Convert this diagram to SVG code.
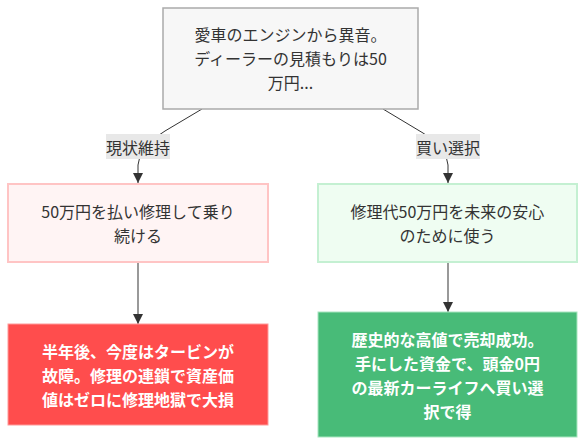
<svg xmlns="http://www.w3.org/2000/svg" width="586" height="446" viewBox="0 0 586 446">
<defs>
<style>
text{font-family:"Noto Sans CJK JP","Noto Sans",sans-serif;font-size:16px;text-anchor:middle;dominant-baseline:central;fill:#333}
.w{fill:#fff;font-weight:bold}
.e{fill:none;stroke:#333;stroke-width:1}
.e2{fill:none;stroke:#999;stroke-width:2}
</style>
<marker id="ah" viewBox="0 0 10 10" refX="10" refY="5" markerWidth="10" markerHeight="10" markerUnits="userSpaceOnUse" orient="auto">
<path d="M0,0 L10,5 L0,10 z" fill="#333"/>
</marker>
</defs>
<rect width="586" height="446" fill="#fff"/>
<g id="connectors">
<path class="e" d="M202,109 L165,131 Q139,146 138,165 L138,183" marker-end="url(#ah)"/>
<path class="e" d="M383,109 L423,133 Q447,147 448,165 L448,183" marker-end="url(#ah)"/>
<path class="e2" d="M138,262 L138,324" marker-end="url(#ah)"/>
<path class="e2" d="M448,262 L448,312" marker-end="url(#ah)"/>
</g>
<g id="label1">
<rect x="106" y="134" width="64" height="25" fill="#e8e8e8"/>
<text x="138" y="146.5">現状維持</text>
</g>
<g id="label2">
<rect x="416" y="134" width="64" height="25" fill="#e8e8e8"/>
<text x="448" y="146.5">買い選択</text>
</g>
<g id="top">
<rect x="163" y="8" width="255" height="101" fill="#f7f7f7" stroke="#aaa" stroke-width="1.5"/>
<text x="290.5" y="34">愛車のエンジンから異音。</text>
<text x="290.5" y="58">ディーラーの見積もりは50</text>
<text x="290.5" y="82">万円...</text>
</g>
<g id="keep">
<rect x="8" y="184" width="260" height="78" fill="#fff4f4" stroke="#ffc4c4" stroke-width="2"/>
<text x="138" y="210.5">50万円を払い修理して乗り</text>
<text x="138" y="234.5">続ける</text>
</g>
<g id="sell">
<rect x="318" y="184" width="259" height="78" fill="#effdf2" stroke="#c4f0d2" stroke-width="2"/>
<text x="447.5" y="210.5">修理代50万円を未来の安心</text>
<text x="447.5" y="234.5">のために使う</text>
</g>
<g id="loss">
<rect x="8" y="324" width="260" height="101" fill="#ff4d4d" stroke="#ff9a9a" stroke-width="1"/>
<text class="w" x="138" y="350.5">半年後、今度はタービンが</text>
<text class="w" x="138" y="374.5">故障。修理の連鎖で資産価</text>
<text class="w" x="138" y="398.5">値はゼロに修理地獄で大損</text>
</g>
<g id="gain">
<rect x="318" y="312" width="259" height="125" fill="#48bb78" stroke="#a8e6c0" stroke-width="1"/>
<text class="w" x="447.5" y="338.5">歴史的な高値で売却成功。</text>
<text class="w" x="447.5" y="362.5">手にした資金で、頭金0円</text>
<text class="w" x="447.5" y="386.5">の最新カーライフへ買い選</text>
<text class="w" x="447.5" y="410.5">択で得</text>
</g>
</svg>
